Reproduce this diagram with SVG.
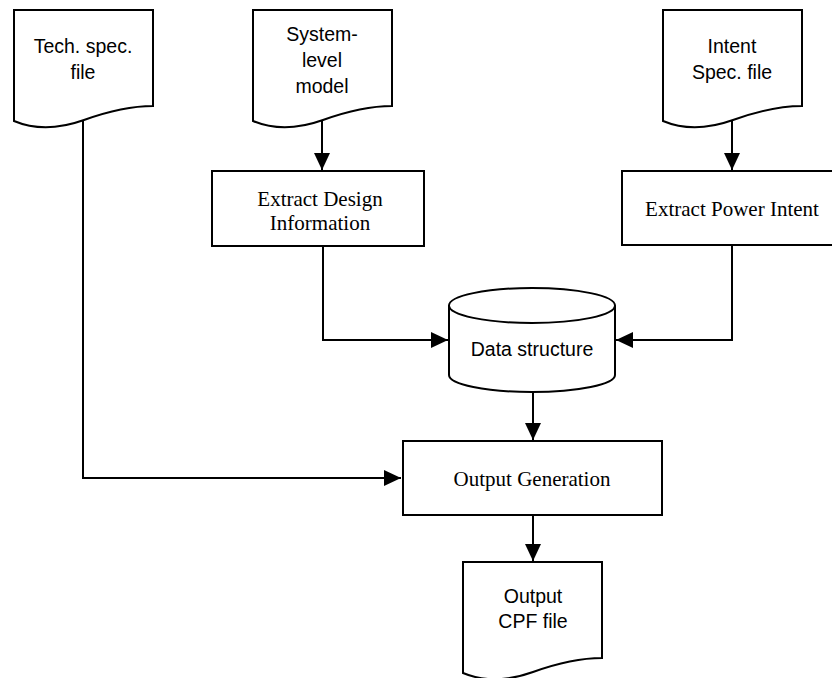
<svg xmlns="http://www.w3.org/2000/svg" width="832" height="678" viewBox="0 0 832 678">
<style>
.shape{fill:#fff;stroke:#000;stroke-width:2}
.line{fill:none;stroke:#000;stroke-width:2}
.sans{font-family:"Liberation Sans",Arial,sans-serif;font-size:19.5px;fill:#000;text-anchor:middle}
.serif{font-family:"Liberation Serif","Times New Roman",serif;font-size:21px;fill:#000;text-anchor:middle}
</style>
<defs>
<marker id="arr" markerUnits="userSpaceOnUse" markerWidth="17" markerHeight="17" refX="17" refY="8.5" orient="auto">
<path d="M0,0.5 L17,8.5 L0,16.5 z" fill="#000"/>
</marker>
</defs>
<rect width="832" height="678" fill="#fff"/>
<g id="connectors">
<path class="line" d="M83,121 V478 H401" marker-end="url(#arr)"/>
<path class="line" d="M322,121 V170" marker-end="url(#arr)"/>
<path class="line" d="M732,121 V170" marker-end="url(#arr)"/>
<path class="line" d="M323,246 V340 H448" marker-end="url(#arr)"/>
<path class="line" d="M732,245 V340 H616" marker-end="url(#arr)"/>
<path class="line" d="M533,392 V440" marker-end="url(#arr)"/>
<path class="line" d="M533,515 V561" marker-end="url(#arr)"/>
</g>
<g id="tech-spec">
<path class="shape" d="M14,10 H153 V106 Q123,106 84,120 T14,121 Z"/>
<text class="sans" x="83" y="53">Tech. spec.</text>
<text class="sans" x="83" y="79">file</text>
</g>
<g id="system-model">
<path class="shape" d="M253,10 H392 V106 Q362,106 323,120 T253,121 Z"/>
<text class="sans" x="322" y="41">System-</text>
<text class="sans" x="322" y="67">level</text>
<text class="sans" x="322" y="93">model</text>
</g>
<g id="intent-spec">
<path class="shape" d="M663,10 H802 V106 Q772,106 733,120 T663,121 Z"/>
<text class="sans" x="732" y="53">Intent</text>
<text class="sans" x="732" y="79">Spec. file</text>
</g>
<g id="extract-design">
<rect class="shape" x="212" y="171" width="212" height="75"/>
<text class="serif" x="320" y="206">Extract Design</text>
<text class="serif" x="320" y="230">Information</text>
</g>
<g id="extract-power">
<rect class="shape" x="622" y="171" width="220" height="74"/>
<text class="serif" x="732" y="216">Extract Power Intent</text>
</g>
<g id="data-structure">
<path class="shape" d="M449,305.5 V375 A83,17 0 0 0 615,375 V305.5 A83,17.5 0 0 0 449,305.5 Z"/>
<path class="line" d="M449,305.5 A83,17.5 0 0 0 615,305.5"/>
<text class="sans" x="532" y="356">Data structure</text>
</g>
<g id="output-generation">
<rect class="shape" x="403" y="441" width="259" height="74"/>
<text class="serif" x="532" y="486">Output Generation</text>
</g>
<g id="output-cpf">
<path class="shape" d="M463,562 H602 V658 Q572,658 533,672 T463,673 Z"/>
<text class="sans" x="533" y="603">Output</text>
<text class="sans" x="533" y="628">CPF file</text>
</g>
</svg>
